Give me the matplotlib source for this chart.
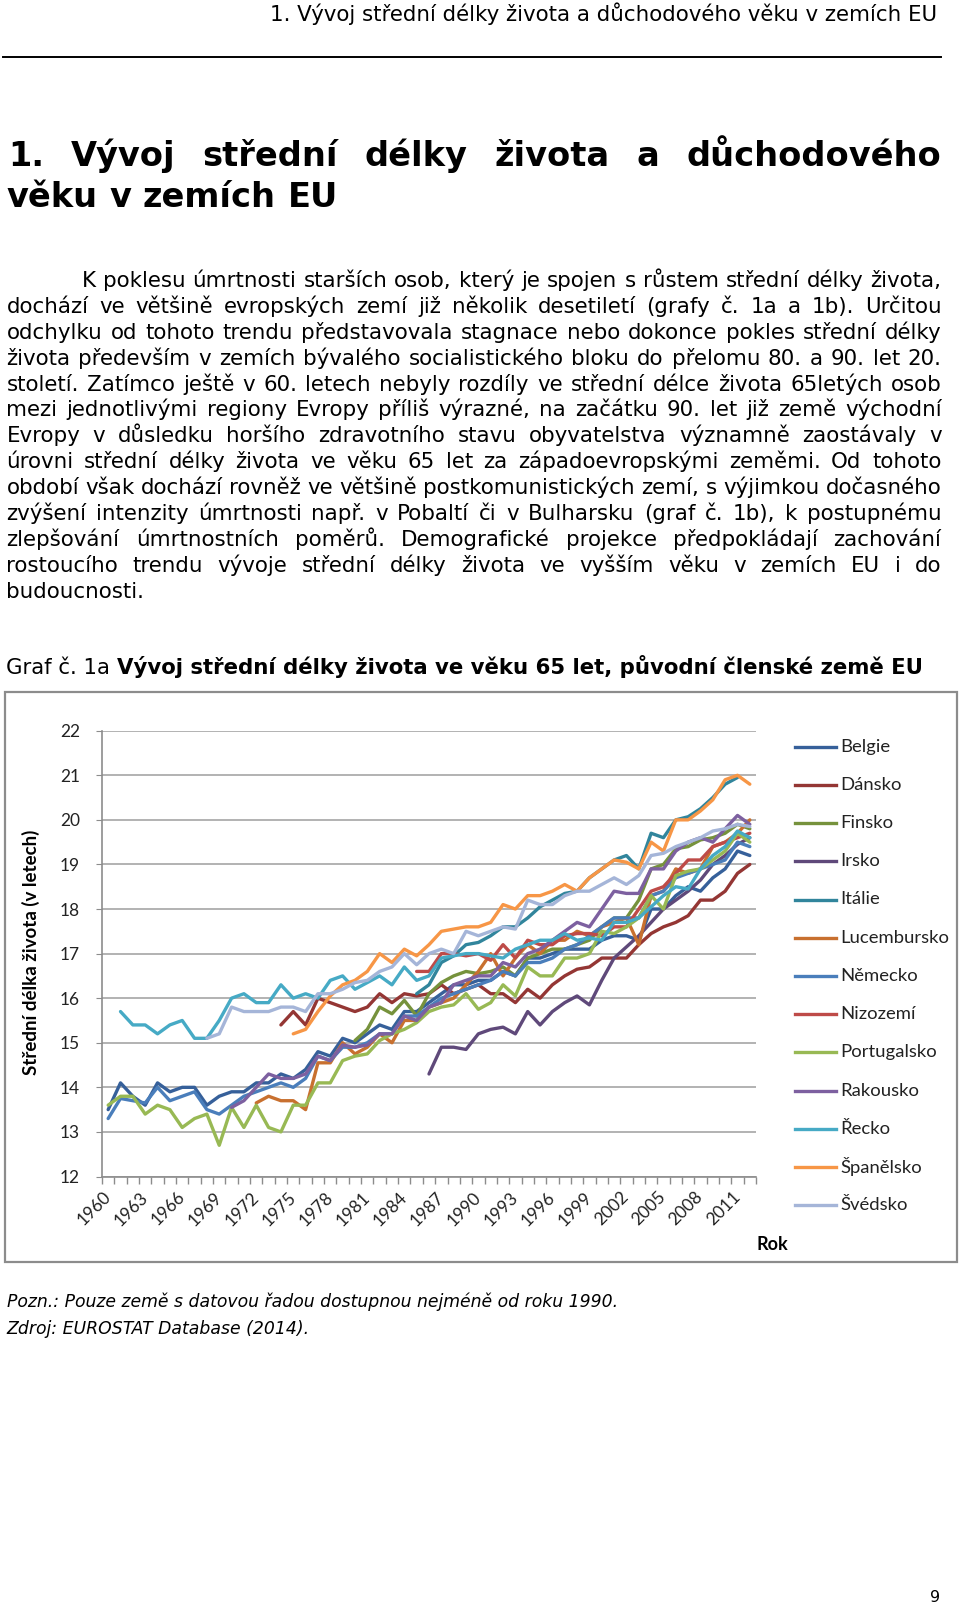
import matplotlib
matplotlib.use("Agg")
import matplotlib.pyplot as plt
import numpy as np
from matplotlib.lines import Line2D
from matplotlib.patches import Rectangle

# ---- chart data (life expectancy at 65) ----
first_year = 1960
last_year = 2012

belgie = [13.5, 14.1, 13.8, 13.6, 14.1, 13.9, 14.0, 14.0, 13.6, 13.8,
          13.9, 13.9, 14.1, 14.1, 14.3, 14.2, 14.4, 14.8, 14.7, 15.1,
          15.0, 15.2, 15.4, 15.3, 15.7, 15.7, 15.9, 16.1, 16.3, 16.3,
          16.4, 16.4, 16.6, 16.5, 16.9, 16.9, 17.0, 17.1, 17.1, 17.1,
          17.3, 17.4, 17.4, 17.3, 18.0, 18.0, 18.3, 18.5, 18.4, 18.7,
          18.9, 19.3, 19.2]
dansko = [15.4, 15.7, 15.4, 16.0, 15.9, 15.8,
          15.7, 15.8, 16.1, 15.9, 16.1, 16.05, 16.1, 16.3, 16.1, 16.2,
          16.3, 16.1, 16.1, 15.9, 16.2, 16.0, 16.3, 16.5, 16.65, 16.7,
          16.9, 16.9, 16.9, 17.2, 17.45, 17.6, 17.7, 17.85, 18.2, 18.2,
          18.4, 18.8, 19.0]
finsko = [15.05, 15.3, 15.8, 15.65, 15.95, 15.6, 16.1, 16.35, 16.5, 16.6,
          16.55, 16.6, 16.7, 16.5, 16.9, 17.0, 17.1, 17.1, 17.2, 17.3,
          17.6, 17.8, 17.8, 18.2, 18.9, 19.0, 19.35, 19.4, 19.55, 19.6,
          19.7, 19.9, 19.8]
irsko = [14.3, 14.9, 14.9, 14.85,
         15.2, 15.3, 15.35, 15.2, 15.7, 15.4, 15.7, 15.9, 16.05, 15.85,
         16.4, 16.9, 17.15, 17.4, 17.7, 18.0, 18.2, 18.4, 18.65, 19.0,
         19.2, 19.45, 19.6]
italie = [16.1, 16.3, 16.8, 16.95, 17.2,
          17.25, 17.4, 17.6, 17.6, 17.8, 18.05, 18.2, 18.35, 18.4, 18.7,
          18.9, 19.1, 19.2, 18.9, 19.7, 19.6, 20.0, 20.07, 20.25, 20.5,
          20.8, 20.95]
lucembursko = [13.65, 13.8, 13.7, 13.7, 13.5, 14.55, 14.55, 15.0,
               14.75, 14.9, 15.2, 15.0, 15.5, 15.5, 15.8, 15.9, 16.0, 16.3,
               16.6, 17.0, 16.5, 16.9, 17.2, 17.0, 17.3, 17.3, 17.5, 17.4,
               17.6, 17.7, 17.8, 17.2, 18.3, 18.4, 18.9, 18.8, 18.9, 19.4,
               19.5, 19.7, 20.0]
nemecko = [13.3, 13.75, 13.7, 13.65, 14.0, 13.7, 13.8, 13.9, 13.5, 13.4,
           13.6, 13.8, 13.9, 14.0, 14.1, 14.0, 14.2, 14.7, 14.6, 14.9,
           14.9, 15.0, 15.2, 15.2, 15.6, 15.6, 15.8, 16.0, 16.1, 16.2,
           16.3, 16.4, 16.6, 16.5, 16.8, 16.8, 16.9, 17.1, 17.2, 17.4,
           17.6, 17.8, 17.8, 17.8, 18.3, 18.4, 18.7, 18.8, 18.9, 19.0,
           19.1, 19.5, 19.4]
nizozemi = [16.6, 16.6, 17.0, 17.0, 16.95,
            17.0, 16.85, 17.2, 16.9, 17.3, 17.2, 17.2, 17.4, 17.45, 17.45,
            17.4, 17.6, 17.6, 18.0, 18.4, 18.5, 18.8, 19.1, 19.1, 19.4,
            19.5, 19.6, 19.7]
portugalsko = [13.6, 13.8, 13.8, 13.4, 13.6, 13.5, 13.1, 13.3, 13.4, 12.7,
               13.55, 13.1, 13.6, 13.1, 13.0, 13.6, 13.6, 14.1, 14.1, 14.6,
               14.7, 14.75, 15.05, 15.2, 15.3, 15.45, 15.7, 15.8, 15.85, 16.1,
               15.75, 15.9, 16.3, 16.05, 16.7, 16.5, 16.5, 16.9, 16.9, 17.0,
               17.5, 17.45, 17.6, 17.8, 18.3, 18.0, 18.75, 18.85, 18.9, 19.1,
               19.3, 19.7, 19.5]
rakousko = [13.55, 13.7, 14.0, 14.3, 14.2, 14.2, 14.3, 14.7, 14.6, 14.95,
            14.9, 14.95, 15.2, 15.2, 15.6, 15.5, 15.8, 15.9, 16.3, 16.4,
            16.5, 16.5, 16.8, 16.7, 17.0, 17.1, 17.3, 17.5, 17.7, 17.6,
            18.0, 18.4, 18.35, 18.35, 18.9, 18.9, 19.3, 19.5, 19.6, 19.5,
            19.8, 20.1, 19.9]
recko = [15.7, 15.4, 15.4, 15.2, 15.4, 15.5, 15.1, 15.1, 15.5,
         16.0, 16.1, 15.9, 15.9, 16.3, 16.0, 16.1, 16.0, 16.4, 16.5,
         16.2, 16.35, 16.5, 16.3, 16.7, 16.4, 16.5, 16.9, 16.95, 17.0,
         17.0, 16.95, 16.9, 17.1, 17.2, 17.3, 17.3, 17.45, 17.3, 17.35,
         17.3, 17.7, 17.7, 17.8, 18.05, 18.3, 18.5, 18.45, 18.9, 19.2,
         19.4, 19.75, 19.6]
spanelsko = [15.2, 15.3, 15.7, 16.05, 16.3,
             16.4, 16.6, 17.0, 16.8, 17.1, 16.95, 17.2, 17.5, 17.55, 17.6,
             17.6, 17.7, 18.1, 18.0, 18.3, 18.3, 18.4, 18.55, 18.4, 18.7,
             18.9, 19.1, 19.05, 18.9, 19.5, 19.3, 20.0, 20.0, 20.2, 20.45,
             20.9, 21.0, 20.8]
svedsko = [15.1, 15.2,
           15.8, 15.7, 15.7, 15.7, 15.8, 15.8, 15.7, 16.1, 16.1, 16.2,
           16.35, 16.4, 16.6, 16.7, 17.0, 16.75, 17.0, 17.1, 17.0, 17.5,
           17.4, 17.5, 17.6, 17.55, 18.2, 18.1, 18.1, 18.3, 18.4, 18.4,
           18.55, 18.7, 18.55, 18.75, 19.2, 19.25, 19.4, 19.5, 19.6, 19.75,
           19.8, 19.9, 19.85]

countries = ["Belgie", "Dánsko", "Finsko", "Irsko", "Itálie", "Lucembursko",
             "Německo", "Nizozemí", "Portugalsko", "Rakousko", "Řecko",
             "Španělsko", "Švédsko"]
start_years = [1960, 1974, 1980, 1986, 1985, 1972,
               1960, 1985, 1960, 1970, 1961, 1975, 1968]
values = [belgie, dansko, finsko, irsko, italie, lucembursko,
          nemecko, nizozemi, portugalsko, rakousko, recko, spanelsko, svedsko]
colors = ["#36609A", "#943634", "#76923C", "#5F497A", "#31859C", "#C8702F",
          "#4A7EBB", "#BE4B48", "#98B954", "#7D60A0", "#46AAC5", "#F79646",
          "#A5B5D8"]

# ---- page text ----
header = "1. Vývoj střední délky života a důchodového věku v zemích EU"
heading1 = "1. Vývoj střední délky života a důchodového"
heading2 = "věku v zemích EU"
paragraph = [
    "K poklesu úmrtnosti starších osob, který je spojen s růstem střední délky života,",
    "dochází ve většině evropských zemí již několik desetiletí (grafy č. 1a a 1b). Určitou",
    "odchylku od tohoto trendu představovala stagnace nebo dokonce pokles střední délky",
    "života především v zemích bývalého socialistického bloku do přelomu 80. a 90. let 20.",
    "století. Zatímco ještě v 60. letech nebyly rozdíly ve střední délce života 65letých osob",
    "mezi jednotlivými regiony Evropy příliš výrazné, na začátku 90. let již země východní",
    "Evropy v důsledku horšího zdravotního stavu obyvatelstva významně zaostávaly v",
    "úrovni střední délky života ve věku 65 let za západoevropskými zeměmi. Od tohoto",
    "období však dochází rovněž ve většině postkomunistických zemí, s výjimkou dočasného",
    "zvýšení intenzity úmrtnosti např. v Pobaltí či v Bulharsku (graf č. 1b), k postupnému",
    "zlepšování úmrtnostních poměrů. Demografické projekce předpokládají zachování",
    "rostoucího trendu vývoje střední délky života ve vyšším věku v zemích EU i do",
    "budoucnosti.",
]
caption_a = "Graf č. 1a"
caption_b = "Vývoj střední délky života ve věku 65 let, původní členské země EU"
note1 = "Pozn.: Pouze země s datovou řadou dostupnou nejméně od roku 1990."
note2 = "Zdroj: EUROSTAT Database (2014)."
y_title = "Střední délka života (v letech)"
x_title = "Rok"
page_no = "9"

W, H = 960, 1605
plt.rcParams['font.family'] = ['DejaVu Sans']
chart_font = ['Lato', 'DejaVu Sans']

fig = plt.figure(figsize=(W / 100, H / 100), dpi=100)
renderer = fig.canvas.get_renderer()


def fx(px):
    return px / W


def fy(py):
    return 1 - py / H


def width_of(s, **kw):
    t = fig.text(0, 0, s, **kw)
    w = t.get_window_extent(renderer).width
    t.remove()
    return w


def space_of(**kw):
    return width_of('a a', **kw) - 2 * width_of('a', **kw)


def fit_size(s, target, **kw):
    return 10 * target / width_of(s, fontsize=10, **kw)


def put_line(line, x0, x1, base, justify, **kw):
    words = line.split(' ')
    widths = [width_of(w, **kw) for w in words]
    if justify and len(words) > 1:
        gap = (x1 - x0 - sum(widths)) / (len(words) - 1)
    else:
        gap = space_of(**kw)
    x = x0
    for w, wd in zip(words, widths):
        fig.text(fx(x), fy(base), w, ha='left', va='baseline', **kw)
        x += wd + gap


# running header + rule
hs = fit_size(header, 671)
fig.text(fx(270), fy(20.7), header, fontsize=hs, ha='left', va='baseline')
fig.add_artist(Line2D([fx(3), fx(941)], [fy(57), fy(57)], color='black', lw=1.4))

# chapter heading
hd = fit_size(heading2, 331, fontweight='bold')
put_line(heading1, 8, 941, 165.7, True, fontsize=hd, fontweight='bold')
put_line(heading2, 6.5, 941, 206.7, False, fontsize=hd, fontweight='bold')

# body paragraph (justified); largest size at which every line still fits
fs = 16.0
while fs > 10:
    sp = space_of(fontsize=fs)
    ok = True
    for k, line in enumerate(paragraph[:-1]):
        left = 81.7 if k == 0 else 6.5
        words = line.split(' ')
        nat = sum(width_of(w, fontsize=fs) for w in words) + sp * 0.85 * (len(words) - 1)
        if nat > 941.5 - left:
            ok = False
            break
    if ok:
        break
    fs -= 0.1
for k, line in enumerate(paragraph):
    left = 81.7 if k == 0 else 6.5
    put_line(line, left, 941.5, 287 + k * 25.9, k < len(paragraph) - 1, fontsize=fs)

# caption
sp10 = space_of(fontsize=10)
wa = width_of(caption_a, fontsize=10)
wb = width_of(caption_b, fontsize=10, fontweight='bold')
cs = 10 * 917 / (wa + sp10 + wb)
fig.text(fx(6), fy(674), caption_a, fontsize=cs, ha='left', va='baseline')
fig.text(fx(6 + (wa + sp10) * cs / 10), fy(674), caption_b, fontsize=cs,
         fontweight='bold', ha='left', va='baseline')

# chart frame
fig.add_artist(Rectangle((fx(5), fy(1262)), fx(957) - fx(5), (1262 - 692) / H,
                         transform=fig.transFigure, fill=False,
                         edgecolor='#8C8C8C', lw=1.6))

# ---- the line chart ----
ax = fig.add_axes([fx(102), fy(1176.5), fx(756) - fx(102), (1176.5 - 730.7) / H])
for name, start, vals, col in zip(countries, start_years, values, colors):
    x = np.arange(start - first_year, start - first_year + len(vals))
    ax.plot(x, vals, color=col, lw=2.4, solid_joinstyle='round',
            solid_capstyle='round', label=name)

n_years = last_year - first_year + 1
ax.set_xlim(-0.5, n_years - 0.5)
ax.set_ylim(12, 22)
ax.set_yticks(np.arange(12, 23, 1))
ax.set_yticklabels([str(v) for v in range(12, 23)], fontsize=12.5,
                   family=chart_font, color='#222222')
tick_pos = np.arange(0, n_years, 3)
ax.set_xticks(tick_pos)
ax.set_xticklabels([str(first_year + i) for i in tick_pos], fontsize=12.5,
                   family=chart_font, color='#222222', rotation=45,
                   ha='right', va='center', rotation_mode='anchor')
ax.set_xticks(np.arange(-0.5, n_years, 1), minor=True)
ax.tick_params(axis='x', which='major', length=0, pad=13)
ax.tick_params(axis='x', which='minor', length=5, color='#8C8C8C', width=1)
ax.tick_params(axis='y', which='major', length=4, color='#8C8C8C', pad=12)
ax.yaxis.grid(True, color='#A6A6A6', lw=1.2)
ax.set_axisbelow(True)
for side in ['top', 'right']:
    ax.spines[side].set_visible(False)
for side in ['left', 'bottom']:
    ax.spines[side].set_color('#8C8C8C')
    ax.spines[side].set_linewidth(1.2)

fig.text(fx(31), fy(952), y_title, rotation=90, ha='center', va='center',
         fontsize=13.5, fontweight='bold', family=chart_font)
fig.text(fx(772), fy(1244), x_title, ha='center', va='center',
         fontsize=13, fontweight='bold', family=chart_font)

# legend
for k, (name, col) in enumerate(zip(countries, colors)):
    yy = 746.7 + k * 38.2
    fig.add_artist(Line2D([fx(795), fx(836)], [fy(yy), fy(yy)], color=col, lw=2.4))
    fig.text(fx(840), fy(yy), name, ha='left', va='center', fontsize=13.3,
             family=chart_font, color='#222222')

# notes and page number
ns = fit_size(note1, 609, fontstyle='italic')
fig.text(fx(6.7), fy(1306.7), note1, fontsize=ns, fontstyle='italic',
         ha='left', va='baseline')
fig.text(fx(6.7), fy(1334), note2, fontsize=ns, fontstyle='italic',
         ha='left', va='baseline')
fig.text(fx(935), fy(1601.7), page_no, fontsize=11.5, ha='center', va='baseline')

fig.savefig('out.png', dpi=100)
